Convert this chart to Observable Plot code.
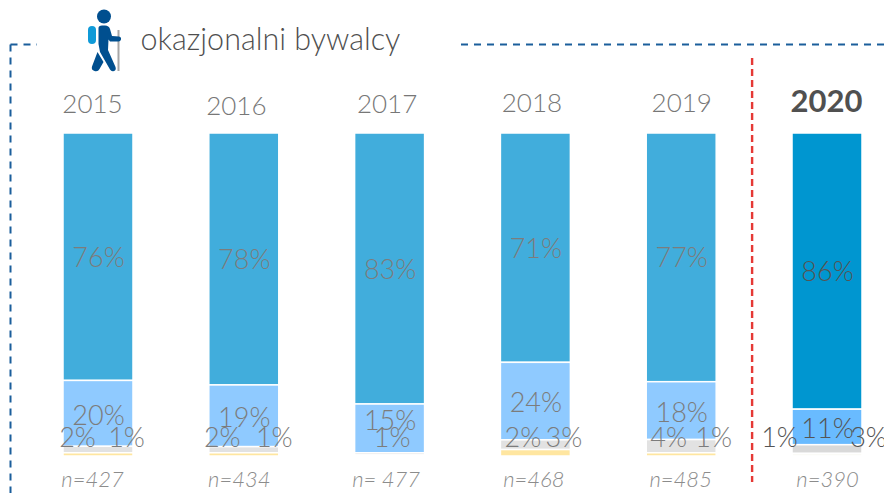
<!DOCTYPE html>
<html><head><meta charset="utf-8">
<style>html,body{margin:0;padding:0;background:#fff;overflow:hidden}svg{display:block}</style>
<script src="https://cdn.jsdelivr.net/npm/d3@7"></script>
<script src="https://cdn.jsdelivr.net/npm/@observablehq/plot@0.6"></script>
</head><body><div id="chart"></div>
<script>
const years = ["2015","2016","2017","2018","2019","2020"];
const title = "okazjonalni bywalcy";
const sampleLabels = ["n=427","n=434","n= 477","n=468","n=485","n=390"];
// bar heights (percent of the bar)
const seg1 = [76.6, 78, 83.9, 71, 77, 85.5];
const seg2 = [20.4, 19.1, 15.1, 24, 17.9, 11];
const seg3 = [2, 1.9, 0.7, 3, 4.1, 2.7];
const seg4 = [1, 1, 0.3, 2, 1, 0.8];
// printed labels
const label1 = ["76%","78%","83%","71%","77%","86%"];
const label2 = ["20%","19%","15%","24%","18%","11%"];
const lowLeft = ["2%","2%","","2%","4%","1%"];
const lowRight = ["1%","1%","1%","3%","1%","3%"];

const colors = ["#41ADDC","#8FCAFF","#E2E2E2","#FFE6A0"];
const colors2020 = ["#0096D0","#69BBFF","#D9D9D9","#FBFBF6"];
const font = "Lato, 'Noto Sans', sans-serif";
const gray = "#7c7c7c", gray2020 = "#555555";

const rows = years.flatMap((year, i) =>
  [seg1[i], seg2[i], seg3[i], seg4[i]].map((value, k) => ({
    year, value, fill: (year === "2020" ? colors2020 : colors)[k]
  })));

// layout nudges for the hand-placed labels, in pixels
const yearDy = [-29, -27, -29, -30, -30, -31];
const yearDx = [-6, -8, -3, -4, 0, -1];
const sampleDx = [-6, -5, -4, -2, -1, 0];
const leftDx = [-21, -22, 0, -13, -13, -48];
const rightDx = [28, 30, 2, 28, 32, 41];
const LOW_ROW = 94.4;

const labelMarks = years.flatMap((year, i) => {
  const c = year === "2020" ? gray2020 : gray;
  const common = {x: () => year, fontFamily: font, fontSize: 27, fontWeight: 300, fill: c, lineAnchor: "middle"};
  const one = (text, y, dx, dy = 0) => text ? [Plot.text([text], {...common, y: () => y, text: d => d, dx, dy})] : [];
  return [
    Plot.text([year], {x: d => d, frameAnchor: "top", dx: yearDx[i], dy: yearDy[i], lineAnchor: "middle", text: d => d,
      fontFamily: font, fontSize: year === "2020" ? 31 : 26, fontWeight: year === "2020" ? 700 : 300,
      fill: year === "2020" ? "#505050" : "#777777"}),
    Plot.text([sampleLabels[i]], {x: () => year, frameAnchor: "bottom", dx: sampleDx[i], dy: 23, lineAnchor: "middle", text: d => d,
      fontFamily: font, fontSize: 22, fontStyle: "italic", fontWeight: 300, fill: "#8c8c8c"}),
    ...one(label1[i], seg1[i] / 2, 0, 1),
    ...one(label2[i], seg1[i] + seg2[i] / 2, 0, year === "2017" ? -8 : 2),
    ...one(lowLeft[i], LOW_ROW, leftDx[i]),
    ...one(lowRight[i], LOW_ROW, rightDx[i])
  ];
});

// decorations: dashed frame, divider before 2020, hiker icon
function decorations(index, {x}, values, dims) {
  const g = d3.create("svg:g");
  const blue = "#1B5E9B";
  const dash = (a, b, c, e, col, w, da) => g.append("line").attr("x1", a).attr("y1", b).attr("x2", c).attr("y2", e)
    .attr("stroke", col).attr("stroke-width", w).attr("stroke-dasharray", da);
  dash(10.5, 44.5, 10.5, dims.height, blue, 2, "7 6");
  dash(10.5, 44.5, 37, 44.5, blue, 2, "7 6");
  dash(461, 44.5, dims.width, 44.5, blue, 2, "7 6");
  const divider = x("2019") + x.bandwidth() + (x("2020") - x("2019") - x.bandwidth()) / 2 - 2;
  dash(divider, 58, divider, 482, "#E53935", 2.4, "7 4");
  const ic = g.append("g");
  ic.append("rect").attr("x", 88).attr("y", 26).attr("width", 8).attr("height", 18).attr("rx", 4).attr("fill", "#0F9AD8");
  ic.append("rect").attr("x", 117.5).attr("y", 30).attr("width", 2).attr("height", 41).attr("fill", "#A6A6A6");
  ic.append("circle").attr("cx", 104).attr("cy", 16.5).attr("r", 7).attr("fill", "#004F8F");
  ic.append("path").attr("fill", "#004F8F").attr("d",
    "M98.5 28Q98.5 25.5 102 25.5L105 25.5Q109 25.5 110 29L112 36L119 36.5Q121.5 37 121 39.5Q120.5 41.5 118.5 41.5L110 41.5L108.5 39.5L108 50L115.5 67Q116.5 70 114 71Q111.5 72 110 69.5L100 52L98.5 44Z");
  ic.append("path").attr("fill", "#004F8F").attr("d",
    "M97.5 52L103.5 62L99.5 69Q98 72 94.5 71Q91 70 92 66.5Z");
  return g.node();
}

const plot = Plot.plot({
  width: 884, height: 493,
  marginLeft: 63, marginRight: 22, marginTop: 133, marginBottom: 37,
  style: {background: "#fff", fontFamily: font},
  x: {axis: null, domain: years, paddingInner: 0.52, paddingOuter: 0, align: 0, round: false},
  y: {axis: null, domain: [0, 100], reverse: true},
  marks: [
    Plot.barY(rows, {x: "year", y: "value", fill: "fill", stroke: "#fff", strokeWidth: 1.5, order: null}),
    decorations,
    Plot.text([title], {frameAnchor: "top-left", dx: 77, dy: -93, lineAnchor: "middle", text: d => d,
      fontFamily: font, fontSize: 30.5, fontWeight: 300, fill: "#4f4f4f"}),
    ...labelMarks
  ]
});
document.getElementById("chart").append(plot);
</script></body></html>
